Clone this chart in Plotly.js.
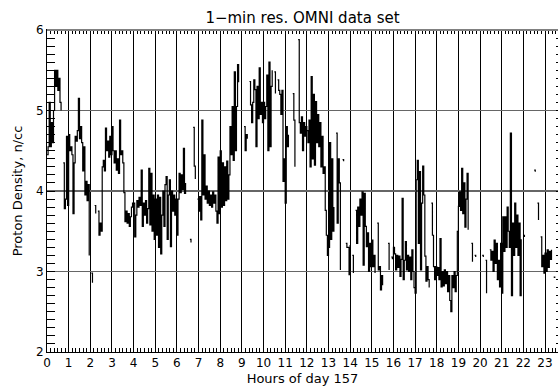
<!DOCTYPE html>
<html>
<head>
<meta charset="utf-8">
<script src="https://cdn.plot.ly/plotly-3.0.1.min.js"></script>
<style>
  html, body { margin: 0; padding: 0; background: #fff; }
  #chart { width: 559px; height: 386px; }
</style>
</head>
<body>
<div id="chart"></div>
<script>
// OMNI 1-min proton density, day 157, sampled every 3 minutes (null = data gap)
const startHour = 0;
const stepMinutes = 3;
const protonDensity = [
  // hour 0
  4.45, 4.55, 5.1, 4.55, 4.85, 4.6, 5.0, 5.5, 5.3, 5.5, 5.25, 5.4, 5.1, 5.0, null, 4.35, 3.78, 3.9, 4.68, 3.82,
  // hour 1
  4.7, 4.5, 4.55, 4.45, 3.72, 4.35, 4.68, 4.62, 4.75, 5.15, 4.65, 4.8, 4.6, 4.25, 4.55, 3.95, 4.12, 3.88, 4.08, 3.2,
  // hour 2
  null, 2.98, 2.86, null, 3.82, 3.72, null, 3.75, 3.45, 3.6, 3.5, 4.3, 4.38, 4.25, 4.78, 4.5, 4.62, 4.42, 4.68, 4.45,
  // hour 3
  4.8, 4.5, 4.35, 4.5, 4.26, 4.4, 4.22, 4.88, 4.45, 4.5, 4.35, 3.98, 3.62, 3.75, 3.6, 3.72, 3.56, 3.68, 3.8, 3.85,
  // hour 4
  3.85, 3.43, 3.7, 3.88, 3.8, 3.92, 3.82, 4.26, 3.56, 3.85, 3.7, 3.88, 3.6, 3.78, 4.28, 3.58, 4.22, 3.5, 3.95, 3.4,
  // hour 5
  3.9, 3.45, 3.95, 3.3, 3.92, 3.22, 3.7, 4.0, 3.56, 4.08, 4.18, 3.4, 3.95, 4.14, 3.31, 4.0, 3.75, 3.95, 3.7, 3.9,
  // hour 6
  3.45, 3.9, 4.22, 3.98, 4.2, 4.02, 4.53, 3.97, 4.1, null, null, null, 3.4, 3.36, null, 4.79, 4.31, 4.15, null, 3.9,
  // hour 7
  3.75, 3.93, 3.64, 4.88, 3.95, 4.45, 3.9, 4.06, 3.85, 4.0, 3.82, 3.95, 3.8, 3.99, 3.85, 3.95, 3.75, 3.6, 4.42, 3.72,
  // hour 8
  4.5, 3.8, 4.35, 3.82, 4.3, 3.88, 4.37, 3.9, 4.2, 4.8, 4.45, 5.05, 4.38, 5.48, 4.5, 5.05, 5.57, 5.35, null, null,
  // hour 9
  null, null, 4.8, 4.5, 4.7, 4.65, null, 5.36, 5.07, 4.85, 5.1, 5.38, 5.26, 4.55, 5.3, 4.9, 5.53, 4.95, 5.1, 4.85,
  // hour 10
  5.1, 4.9, 5.05, 5.44, 4.5, 5.6, 4.55, 5.3, 5.5, null, 5.48, 5.21, null, 5.38, 5.25, 5.2, 4.95, 5.25, 4.12, 4.4,
  // hour 11
  3.85, 4.8, 4.55, 4.7, null, null, null, 5.21, 4.88, 4.3, null, null, 5.88, 4.85, 4.72, 4.92, 4.5, 4.85, 4.68, 4.8,
  // hour 12
  4.75, 4.6, 4.88, 4.3, 5.42, 4.4, 5.2, 4.32, 5.11, 4.6, 4.95, 4.55, 4.85, 4.3, 4.68, 4.22, 4.3, 3.76, 3.45, 3.2,
  // hour 13
  3.3, 4.6, 3.4, 4.4, 3.5, 3.8, null, 4.72, 3.6, 4.4, 4.1, 3.02, null, 4.39, 4.37, null, 3.35, 3.3, 3.3, 2.96,
  // hour 14
  3.33, null, 3.2, 2.98, null, 3.76, 3.35, 3.8, 3.56, 3.9, 3.7, 3.99, 3.08, 3.97, 3.56, 3.31, 3.48, 3.0, 3.35, 3.06,
  // hour 15
  3.39, 3.06, 3.2, 2.98, null, 3.6, 3.02, 3.06, 2.77, 2.95, 2.83, null, null, null, null, 3.35, 3.02, null, 3.18, 3.16,
  // hour 16
  3.3, 3.22, 3.02, 3.2, 3.05, 3.19, 2.94, 3.15, 3.91, 2.9, 3.14, 3.37, 3.02, 3.2, 3.0, 3.18, 2.9, 3.27, 3.0, 2.8,
  // hour 17
  2.73, 4.14, 4.38, 3.35, 4.24, 3.02, 3.85, 4.31, 3.95, 3.19, 2.88, 3.06, 2.9, 2.8, null, 3.85, 3.45, 3.06, 2.9, 3.06,
  // hour 18
  2.95, 3.05, 2.9, 3.41, 2.81, 3.0, 2.82, 3.02, 2.85, 3.0, 2.75, 2.95, 2.64, 2.5, 2.95, 2.8, 3.0, 2.75, 2.95, 3.5,
  // hour 19
  3.81, 3.99, 3.76, 4.28, 3.72, 4.1, 3.55, 3.9, 4.22, 3.52, null, null, 3.35, 3.12, null, 3.2, 3.18, null, null, null,
  // hour 20
  null, null, 3.2, 3.18, null, 3.14, 2.73, null, null, 3.27, 3.14, 3.25, 3.0, 3.39, 3.1, 3.35, 2.9, 3.14, 2.81, 3.35,
  // hour 21
  2.73, 3.68, 3.25, 3.68, 3.3, 3.8, 3.5, 3.3, 4.72, 2.7, 3.6, 3.2, 3.85, 3.3, 3.7, 3.2, 3.6, 2.7, 3.4, null,
  // hour 22
  3.45, 3.43, null, null, null, null, null, null, null, null, 4.26, 4.24, null, 3.85, 3.64, null, 3.43, 3.06, 3.2, 2.98,
  // hour 23
  3.23, 3.0, 3.27, 3.05, 3.25, 3.15, 3.27, null, 2.93, 2.92, null, null
];

const hourRange = [0, 23.6];
const densityRange = [2, 6];
const titleText = '1\u2212min res. OMNI data set';
const xTitle = 'Hours of day 157';
const yTitle = 'Proton Density, n/cc';

const hours = protonDensity.map((_, i) => startHour + i * stepMinutes / 60);

const traces = [
  {
    x: hours, y: protonDensity,
    type: 'scatter', mode: 'lines',
    line: { color: '#000', width: 1.2, shape: 'hv' },
    connectgaps: false,
    hoverinfo: 'skip'
  },
  // carrier for the right-hand tick axis
  { x: [], y: [], yaxis: 'y2', type: 'scatter', mode: 'lines', showlegend: false }
];

const layout = {
  width: 559, height: 386,
  margin: { l: 47, r: 1, t: 30, b: 34 },
  paper_bgcolor: '#fff', plot_bgcolor: '#fff',
  showlegend: false,
  font: { family: 'DejaVu Sans', size: 12, color: '#000' },
  title: {
    text: titleText,
    font: { family: 'DejaVu Sans', size: 15, color: '#000' },
    xref: 'paper', x: 0.5, xanchor: 'center',
    yref: 'container', y: 0.955, yanchor: 'middle'
  },
  xaxis: {
    range: hourRange,
    tickmode: 'linear', tick0: 0, dtick: 1,
    ticks: 'inside', ticklen: 4, tickcolor: '#000',
    showgrid: true, gridcolor: '#000', gridwidth: 1,
    showline: true, linecolor: '#000', linewidth: 1,
    mirror: 'ticks', zeroline: false,
    tickfont: { size: 12 },
    minor: { dtick: 1 / 6, tick0: 0, ticks: 'inside', ticklen: 4, tickcolor: '#000', showgrid: false },
    title: { text: xTitle, font: { size: 13 }, standoff: 5 }
  },
  yaxis: {
    range: densityRange,
    tickmode: 'linear', tick0: 2, dtick: 1,
    ticks: 'inside', ticklen: 8, tickcolor: '#000',
    showgrid: true, gridcolor: '#666', gridwidth: 1.5,
    showline: true, linecolor: '#000', linewidth: 1,
    zeroline: false,
    tickfont: { size: 12 },
    minor: { dtick: 0.1, tick0: 2, ticks: 'inside', ticklen: 8, tickcolor: '#000', showgrid: false },
    title: { text: yTitle, font: { size: 13 }, standoff: 10 }
  },
  yaxis2: {
    overlaying: 'y', side: 'right',
    range: densityRange,
    tickmode: 'linear', tick0: 2, dtick: 0.1,
    ticks: 'inside', ticklen: 2, tickcolor: '#000',
    showticklabels: false, showgrid: false, showline: false, zeroline: false
  },
  shapes: [
    { type: 'line', xref: 'paper', yref: 'paper', x0: 0, x1: 1, y0: 1, y1: 1,
      line: { color: '#808080', width: 2 }, layer: 'above' }
  ]
};

Plotly.newPlot('chart', traces, layout, { staticPlot: true, displayModeBar: false });
</script>
</body>
</html>
